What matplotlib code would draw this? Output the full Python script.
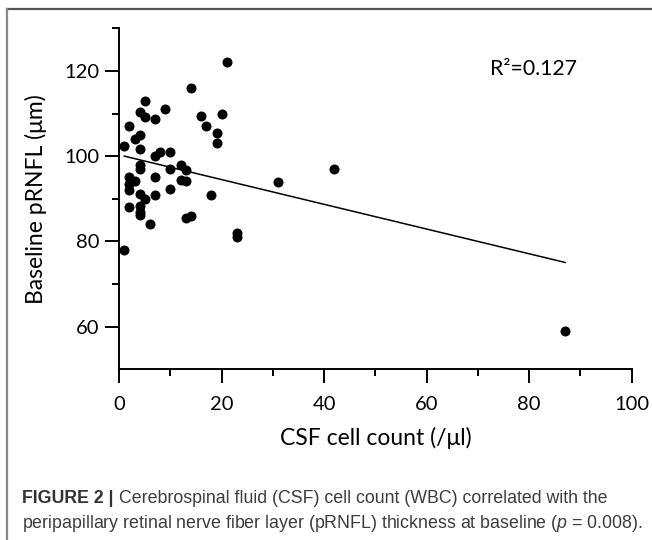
import matplotlib
matplotlib.use("Agg")
import matplotlib.pyplot as plt
from matplotlib.lines import Line2D
from matplotlib.ticker import MultipleLocator
import numpy as np

# ---- data ----
csf_cells = [1, 2, 3, 4, 4, 5, 4, 5, 7, 9,
             7, 8, 10, 4, 4, 7, 10, 12, 13, 12,
             13, 2, 2, 3, 2, 4, 5, 7, 10, 2,
             4, 4, 4, 6, 13, 14, 18, 14, 21, 16,
             17, 19, 19, 20, 23, 23, 31, 1, 42, 87]
prnfl = [102.4, 107, 104, 105, 101.7, 113, 110.4, 109.3, 108.8, 111,
         100, 101, 101, 98, 97, 95, 97, 98, 96.7, 94.5,
         94.2, 95, 93.4, 94.2, 92, 91.2, 90, 91, 92.4, 88,
         88.2, 87, 86.2, 84, 85.5, 86, 91, 116, 122, 109.5,
         107, 105.5, 103, 110, 82, 81, 94, 78, 97, 59]
fit_intercept = 100.3
fit_slope = -0.29
r2_label = "R\u00b2=0.127"
x_label = "CSF cell count (/\u03bcl)"
y_label = "Baseline pRNFL (\u03bcm)"
x_major_ticks = [0, 20, 40, 60, 80, 100]
y_major_ticks = [60, 80, 100, 120]
caption_bold = "FIGURE 2 | "
caption_line1 = "Cerebrospinal fluid (CSF) cell count (WBC) correlated with the"
caption_line2 = "peripapillary retinal nerve fiber layer (pRNFL) thickness at baseline ($p$ = 0.008)."

plt.rcParams['mathtext.fontset'] = 'custom'
plt.rcParams['mathtext.rm'] = 'Liberation Sans'
plt.rcParams['mathtext.it'] = 'Liberation Sans:italic'

W, H = 652, 540
fig = plt.figure(figsize=(W / 100, H / 100), dpi=100)
ax = fig.add_axes([119.2 / W, 1 - 369.3 / H, (631.7 - 119.2) / W, (369.3 - 28.3) / H])

font = 'Lato'
ax.plot(csf_cells, prnfl, 'o', color='black', markersize=7.2, markeredgewidth=0, clip_on=False)
xs = np.array([min(csf_cells), max(csf_cells)])
ax.plot(xs, fit_intercept + fit_slope * xs, color='black', lw=1.1)

ax.set_xlim(0, 100)
ax.set_ylim(50, 130)
ax.set_xticks(x_major_ticks)
ax.set_yticks(y_major_ticks)
ax.xaxis.set_minor_locator(MultipleLocator(10))
ax.set_yticks([70, 90, 110, 130], minor=True)
for s in ['top', 'right']:
    ax.spines[s].set_visible(False)
for s in ['left', 'bottom']:
    ax.spines[s].set_linewidth(1.4)
ax.tick_params(which='major', length=10, width=1.4, pad=4.5, labelsize=14.5)
ax.tick_params(which='minor', length=5, width=1.4)
ax.tick_params(axis='x', which='major', pad=9)
for lab in ax.get_xticklabels() + ax.get_yticklabels():
    lab.set_fontfamily(font)

ax.set_xlabel(x_label, fontsize=16.5, fontfamily=font, labelpad=10)
ax.set_ylabel(y_label, fontsize=16.5, fontfamily=font, labelpad=12)
ax.text(72.3, 120.5, r2_label, fontsize=15.3, fontfamily=font, va='center', ha='left')

# frame
fig.add_artist(Line2D([7 / W, 1], [1 - 9 / H, 1 - 9 / H], color='#555555', lw=1.6, transform=fig.transFigure))
fig.add_artist(Line2D([7 / W, 7 / W], [0, 1 - 9 / H], color='#888888', lw=1.6, transform=fig.transFigure))

# caption
cap_color = '#3c3c3c'
cap_size = 12.8
cx = 22.5 / W
t1 = fig.text(cx, 1 - 502.7 / H, caption_bold, fontsize=cap_size, fontweight='bold',
              fontfamily='Liberation Sans', color='#333333', va='baseline', ha='left')
fig.canvas.draw()
bb = t1.get_window_extent(renderer=fig.canvas.get_renderer())
fig.text(bb.x1 / W, 1 - 502.7 / H, caption_line1, fontsize=cap_size,
         fontfamily='Liberation Sans', color=cap_color, va='baseline', ha='left')
fig.text(cx, 1 - 528 / H, caption_line2, fontsize=cap_size,
         fontfamily='Liberation Sans', color=cap_color, va='baseline', ha='left')

fig.savefig('out.png', dpi=100)
